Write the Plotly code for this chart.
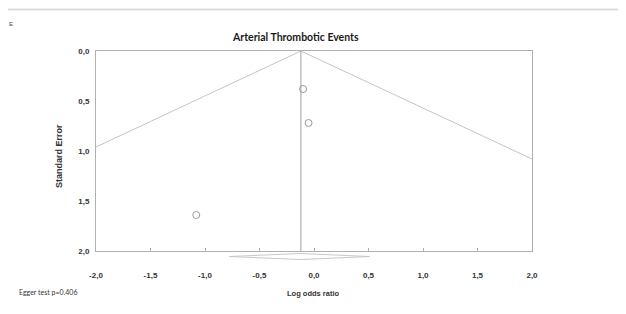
import plotly.graph_objects as go

# ---- data ----
study_lor = [-0.10, -0.05, -1.08]
study_se = [0.38, 0.72, 1.64]
pooled_lor = -0.12
pooled_ci = [-0.78, 0.51]
funnel_x = [-2.0, -0.12, 2.0]
funnel_se = [0.96, 0.0, 1.08]
x_ticks = [-2.0, -1.5, -1.0, -0.5, 0.0, 0.5, 1.0, 1.5, 2.0]
x_tick_text = ["-2,0", "-1,5", "-1,0", "-0,5", "0,0", "0,5", "1,0", "1,5", "2,0"]
y_ticks = [0.0, 0.5, 1.0, 1.5, 2.0]
y_tick_text = ["0,0", "0,5", "1,0", "1,5", "2,0"]

W, H = 626, 314
OFF = 8  # page body margin
# plot area in page pixels: x 96..532, y 51..262 (incl. diamond strip)
L = 96 - OFF
T = 51 - OFF
R = W - (532 - OFF)
B = H - (262 - OFF)
PW, PH = W - L - R, H - T - B
def px(x):
    return (x - OFF - L) / PW
def py(y):
    return (262 - y) / PH

main_bottom = py(251)

fig = go.Figure()

fig.add_trace(go.Scatter(x=funnel_x, y=funnel_se, mode="lines",
                         line=dict(color="#c4c4c4", width=1), hoverinfo="skip"))
fig.add_trace(go.Scatter(x=[pooled_lor, pooled_lor], y=[0, 2], mode="lines",
                         line=dict(color="#a0a0a0", width=1), hoverinfo="skip"))
fig.add_trace(go.Scatter(x=study_lor, y=study_se, mode="markers",
                         marker=dict(symbol="circle-open", size=7,
                                     line=dict(color="#9a9a9a", width=1), color="#9a9a9a")))
fig.add_trace(go.Scatter(x=[pooled_ci[0], pooled_lor, pooled_ci[1], pooled_lor, pooled_ci[0]],
                         y=[0, 3, 0, -3, 0], mode="lines", fill="toself",
                         fillcolor="white", line=dict(color="#c8c8c8", width=1),
                         yaxis="y2", hoverinfo="skip"))

axis_font = dict(family="Liberation Sans, Arial, sans-serif", size=8, color="#333333",
                 weight="bold")

fig.update_layout(
    width=W, height=H,
    margin=dict(l=L, r=R, t=T, b=B),
    paper_bgcolor="white", plot_bgcolor="white",
    showlegend=False,
    xaxis=dict(range=[-2, 2], tickvals=x_ticks, ticktext=x_tick_text,
               showgrid=False, zeroline=False, showline=True, mirror=True,
               linecolor="#b0b0b0", linewidth=1, ticks="inside", ticklen=3,
               tickcolor="#b0b0b0", tickfont=axis_font, ticklabelstandoff=16,
               anchor="y"),
    yaxis=dict(range=[2, 0], domain=[main_bottom, 1], tickvals=y_ticks,
               ticktext=y_tick_text, showgrid=False, zeroline=False,
               showline=True, mirror=True, linecolor="#b0b0b0", linewidth=1,
               ticks="", tickfont=axis_font, ticklabelstandoff=4),
    yaxis2=dict(range=[-5.5, 5.5], domain=[0, main_bottom], visible=False),
    annotations=[
        dict(text="<b>Arterial Thrombotic Events</b>", x=px(295), y=py(37),
             xref="paper", yref="paper", showarrow=False, yanchor="middle",
             font=dict(family="Lato, sans-serif", size=10.5, color="#1a1a1a")),
        dict(text="<b>Standard Error</b>", x=px(52), y=py(156), xref="paper",
             yref="paper", showarrow=False, textangle=-90,
             font=dict(family="Liberation Sans, Arial, sans-serif", size=9, color="#333333")),
        dict(text="<b>Log odds ratio</b>", x=px(313), y=py(300), xref="paper",
             yref="paper", showarrow=False,
             font=dict(family="Liberation Sans, Arial, sans-serif", size=7.5, color="#333333")),
        dict(text="Egger test p=0.406", x=px(17), y=py(298), xref="paper",
             yref="paper", showarrow=False, xanchor="left",
             font=dict(family="Lato, sans-serif", size=7, color="#333333")),
        dict(text="E", x=px(7), y=py(19), xref="paper", yref="paper",
             showarrow=False, xanchor="left",
             font=dict(family="Liberation Sans, Arial, sans-serif", size=6, color="#505050")),
    ],
    shapes=[
        dict(type="line", xref="paper", yref="paper", x0=px(0), x1=px(624),
             y0=py(9.5), y1=py(9.5), line=dict(color="#dcdcdc", width=2)),
        dict(type="line", xref="paper", yref="paper", x0=px(624), x1=px(624),
             y0=py(9.5), y1=py(330), line=dict(color="#dcdcdc", width=2)),
    ],
)

fig.write_html("out.html")
